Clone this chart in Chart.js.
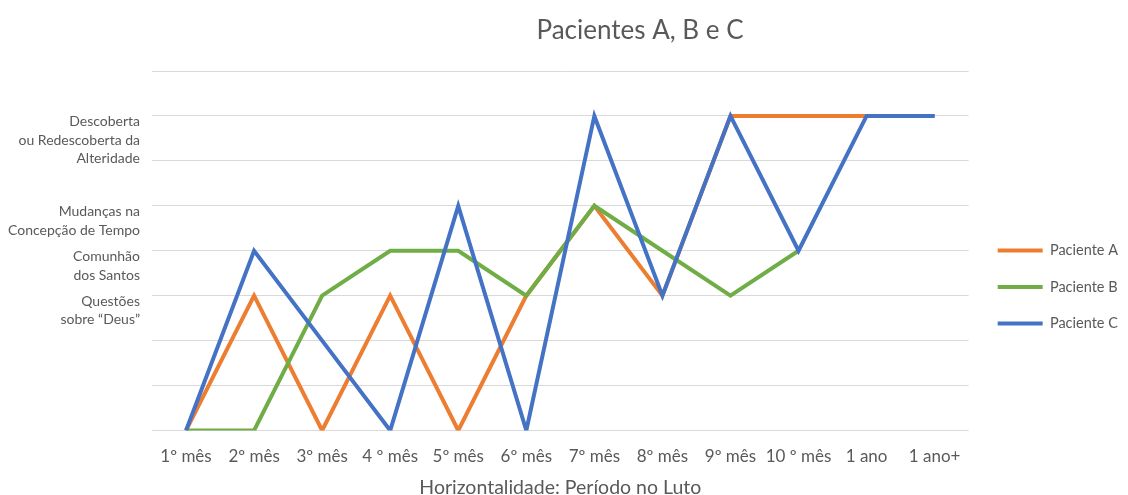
<!DOCTYPE html>
<html>
<head>
<meta charset="utf-8">
<script src="https://cdn.jsdelivr.net/npm/chart.js@4"></script>
<style>
  body { margin: 0; background: #fff; }
  #wrap { width: 1128px; height: 495px; position: relative; }
</style>
</head>
<body>
<div id="wrap"><canvas id="grafico"></canvas></div>
<script>
// Períodos do luto (eixo X)
const periodos = ['1º mês', '2º mês', '3º mês', '4 º mês', '5º mês', '6º mês', '7º mês', '8º mês', '9º mês', '10 º mês', '1 ano', '1 ano+'];

// Níveis (eixo Y): 0..8, só alguns têm rótulo
const rotulosNivel = [
  '', '', '',
  ['Questões', 'sobre “Deus”'],
  ['Comunhão', 'dos Santos'],
  ['Mudanças na', 'Concepção de Tempo'],
  '',
  ['', 'Descoberta', 'ou Redescoberta da', 'Alteridade'],
  ''
];

const pacienteA = [0, 3, 0, 3, 0, 3, 5, 3, 7, 7, 7, 7];
const pacienteB = [0, 0, 3, 4, 4, 3, 5, 4, 3, 4, null, null];
const pacienteC = [0, 4, 2, 0, 5, 0, 7, 3, 7, 4, 7, 7];

const titulo = 'Pacientes A, B e C';
const cinza = '#595959';
const fonte = 'Lato, "Open Sans", sans-serif';

// título desenhado à mão pra ficar na mesma posição do original
const tituloPlugin = {
  id: 'tituloManual',
  afterInit(chart) {
    // legenda mais larga => área do gráfico termina antes
    const fitOriginal = chart.legend.fit;
    chart.legend.fit = function () {
      fitOriginal.call(this);
      this.width += 7;
    };
  },
  afterLayout(chart) {
    // mas os itens da legenda ficam onde estavam
    chart.legend.left += 7;
  },
  afterDraw(chart) {
    const c = chart.ctx;
    c.save();
    c.fillStyle = cinza;
    c.font = '26px ' + fonte;
    c.textAlign = 'center';
    c.textBaseline = 'middle';
    c.fillText(titulo, 640, 31);
    c.restore();
  }
};

function serie(nome, dados, cor, ordem) {
  return {
    label: nome,
    data: dados,
    borderColor: cor,
    backgroundColor: cor,
    borderWidth: 4,
    pointRadius: 0,
    pointHoverRadius: 0,
    tension: 0,
    order: ordem
  };
}

const ctx = document.getElementById('grafico').getContext('2d');
new Chart(ctx, {
  type: 'line',
  data: {
    labels: periodos,
    datasets: [
      serie('Paciente A', pacienteA, '#ED7D31', 3),
      serie('Paciente B', pacienteB, '#70AD47', 2),
      serie('Paciente C', pacienteC, '#4472C4', 1)
    ]
  },
  plugins: [tituloPlugin],
  options: {
    responsive: true,
    maintainAspectRatio: false,
    animation: false,
    layout: { padding: { top: 71, right: 0, bottom: -2, left: -4 } },
    plugins: {
      title: { display: false },
      tooltip: { enabled: false },
      legend: {
        position: 'right',
        title: { display: true, text: '', font: { size: 6, lineHeight: 1 }, padding: 0 },
        labels: {
          color: cinza,
          font: { family: fonte, size: 14.5 },
          boxWidth: 45,
          boxHeight: 4,
          padding: 22,
          sort: (a, b) => a.datasetIndex - b.datasetIndex,
          generateLabels(chart) {
            const itens = Chart.defaults.plugins.legend.labels.generateLabels(chart);
            itens.forEach(i => { i.lineWidth = 0; });
            return itens;
          }
        }
      }
    },
    scales: {
      x: {
        offset: true,
        grid: { display: false, drawTicks: false },
        border: { display: false },
        ticks: {
          color: cinza,
          font: { family: fonte, size: 17, lineHeight: 1 },
          padding: 18,
          maxRotation: 0,
          autoSkip: false
        },
        title: {
          display: true,
          text: 'Horizontalidade: Período no Luto',
          color: cinza,
          font: { family: fonte, size: 19.5, lineHeight: 1 },
          padding: { top: -6, bottom: 0 }
        }
      },
      y: {
        min: 0,
        max: 8,
        grid: { color: '#D9D9D9', lineWidth: 1, drawTicks: false },
        border: { display: false },
        ticks: {
          stepSize: 1,
          autoSkip: false,
          color: cinza,
          font: { family: fonte, size: 14, lineHeight: 1.32 },
          padding: 12,
          labelOffset: 15,
          callback: v => rotulosNivel[v] || ''
        }
      }
    }
  }
});
</script>
</body>
</html>
